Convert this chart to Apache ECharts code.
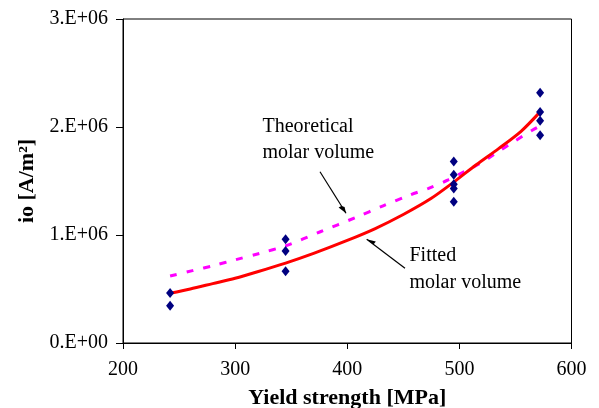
<!DOCTYPE html>
<html>
<head>
<meta charset="utf-8">
<script src="https://cdn.jsdelivr.net/npm/echarts@6/dist/echarts.min.js"></script>
<style>
html,body{margin:0;padding:0;background:#fff;}
#c{width:599px;height:408px;}
</style>
</head>
<body>
<div id="c"></div>
<script>
// Measured points (yield strength MPa, io A/m2)
const measX = [242, 242, 345, 345, 345, 495, 495, 495, 495, 495, 572, 572, 572, 572];
const measY = [463000, 345000, 960000, 852000, 664000, 1680000, 1558000, 1470000, 1430000, 1308000, 2318000, 2140000, 2058000, 1923000];

// Fitted molar volume curve
const fitX = [242, 260, 280, 300, 320, 345, 370, 400, 425, 450, 475, 495, 515, 535, 555, 572];
const fitY = [460000, 500000, 550000, 600000, 660000, 740000, 830000, 950000, 1060000, 1190000, 1340000, 1490000, 1650000, 1800000, 1960000, 2140000];

// Theoretical molar volume curve
const theoX = [242, 262, 282, 300, 322, 345, 376, 407, 432, 456, 472, 490, 505, 518, 533, 548, 565, 572];
const theoY = [620000, 670000, 720000, 770000, 830000, 900000, 1030000, 1160000, 1270000, 1370000, 1430000, 1510000, 1590000, 1660000, 1760000, 1860000, 1970000, 2010000];

// Axis tick labels
const xTickValues = [200, 300, 400, 500, 600];
const yTickValues = [0, 1000000, 2000000, 3000000];
const yTickLabels = ['0.E+00', '1.E+06', '2.E+06', '3.E+06'];

const xTitle = 'Yield strength [MPa]';
const yTitle = 'io [A/m\u00b2]';
const theoLabel = 'Theoretical\nmolar volume';
const fitLabel = 'Fitted\nmolar volume';

const FONT = '"Liberation Serif", "Times New Roman", serif';

const zip = (a, b) => a.map((v, i) => [v, b[i]]);

const chart = echarts.init(document.getElementById('c'), null, {renderer: 'canvas'});
chart.setOption({
  animation: false,
  backgroundColor: '#fff',
  grid: {left: 123, right: 27.5, top: 19, bottom: 65, show: true, borderColor: '#000', borderWidth: 1,
    backgroundColor: 'transparent', containLabel: false, outerBoundsMode: 'none'},
  xAxis: {
    type: 'value', min: xTickValues[0], max: xTickValues[xTickValues.length - 1], interval: 100,
    axisLine: {show: true, lineStyle: {color: '#000', width: 1}},
    axisTick: {show: true, inside: false, length: 6, lineStyle: {color: '#000'}},
    splitLine: {show: false},
    axisLabel: {color: '#000', fontFamily: FONT, fontSize: 20, margin: 17},
    name: xTitle, nameLocation: 'middle', nameGap: 44,
    nameTextStyle: {color: '#000', fontFamily: FONT, fontSize: 22, fontWeight: 'bold'}
  },
  yAxis: {
    type: 'value', min: 0, max: 3000000, interval: 1000000,
    axisLine: {show: true, lineStyle: {color: '#000', width: 1}},
    axisTick: {show: true, inside: false, length: 7, lineStyle: {color: '#000'}},
    splitLine: {show: false},
    axisLabel: {color: '#000', fontFamily: FONT, fontSize: 20, margin: 15,
      formatter: v => yTickLabels[yTickValues.indexOf(v)]},
    name: yTitle, nameLocation: 'middle', nameGap: 85, nameRotate: 90,
    nameTextStyle: {color: '#000', fontFamily: FONT, fontSize: 22, fontWeight: 'bold'}
  },
  series: [
    {
      type: 'line', data: zip(theoX, theoY), smooth: 0.3, showSymbol: false, symbol: 'none',
      lineStyle: {color: '#ff00ff', width: 3, type: [7, 10], cap: 'butt'}, z: 2
    },
    {
      type: 'line', data: zip(fitX, fitY), smooth: 0.3, showSymbol: false, symbol: 'none',
      lineStyle: {color: '#ff0000', width: 3}, z: 3
    },
    {
      type: 'scatter', data: zip(measX, measY), symbol: 'diamond', symbolSize: [8, 10],
      itemStyle: {color: '#000080', opacity: 1}, z: 4
    }
  ],
  graphic: [
    {type: 'text', left: 262.5, top: 113.5, style: {text: theoLabel, font: '20px ' + FONT, fill: '#000', lineHeight: 26}},
    {type: 'text', left: 409.5, top: 242, style: {text: fitLabel, font: '20px ' + FONT, fill: '#000', lineHeight: 27}},
    {type: 'line', shape: {x1: 320, y1: 171.7, x2: 346, y2: 213.3}, style: {stroke: '#000', lineWidth: 1.2}},
    {type: 'polygon', shape: {points: [[346, 213.3], [338.6, 207.5], [341.3, 206.0], [344.6, 206.9]]}, style: {fill: '#000'}},
    {type: 'line', shape: {x1: 405, y1: 268.3, x2: 366.7, y2: 239.3}, style: {stroke: '#000', lineWidth: 1.2}},
    {type: 'polygon', shape: {points: [[366.7, 239.3], [375.8, 241.4], [373.9, 243.9], [372.5, 243.7]]}, style: {fill: '#000'}}
  ]
});
</script>
</body>
</html>
